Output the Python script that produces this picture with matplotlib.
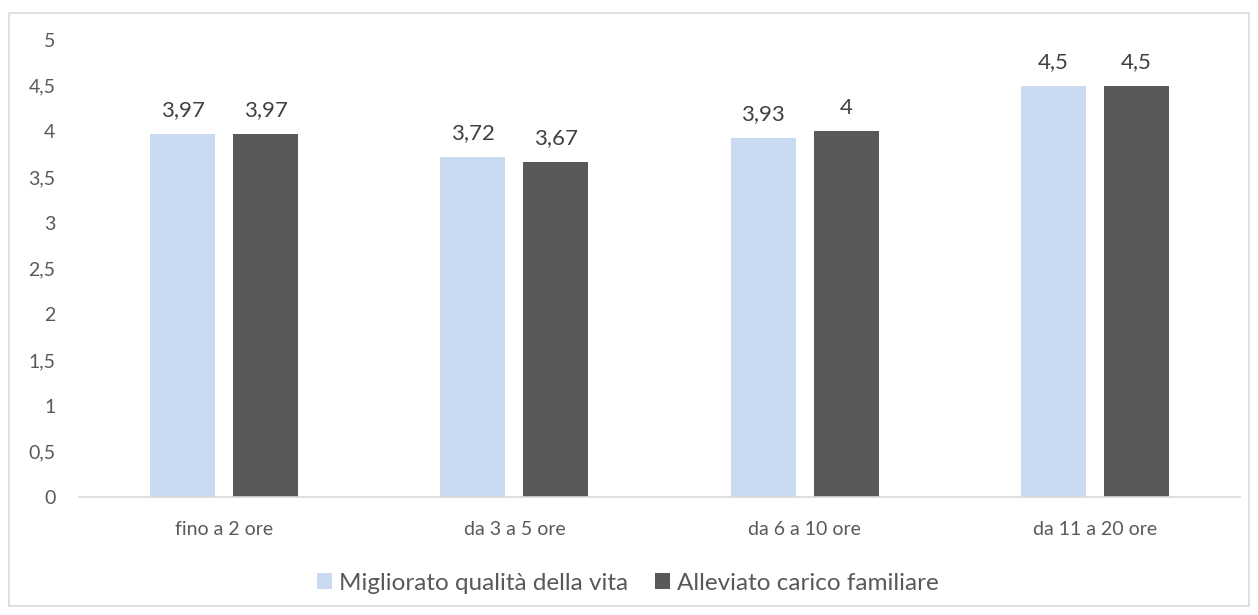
import numpy as np
import matplotlib.pyplot as plt
from matplotlib.patches import Rectangle

plt.rcParams['font.family'] = ['Lato', 'DejaVu Sans']

categories = ['fino a 2 ore', 'da 3 a 5 ore', 'da 6 a 10 ore', 'da 11 a 20 ore']
qualita = [3.97, 3.72, 3.93, 4.5]
carico = [3.97, 3.67, 4.0, 4.5]
labels_qualita = ['3,97', '3,72', '3,93', '4,5']
labels_carico = ['3,97', '3,67', '4', '4,5']
yticks = [0, 0.5, 1, 1.5, 2, 2.5, 3, 3.5, 4, 4.5, 5]
ytick_labels = ['0', '0,5', '1', '1,5', '2', '2,5', '3', '3,5', '4', '4,5', '5']

W, H = 1258, 615
fig = plt.figure(figsize=(W / 100, H / 100), dpi=100)
ax = fig.add_axes([79 / W, 1 - 497 / H, (1240 - 79) / W, (497 - 40) / H])

# outer chart border
fig.patches.append(Rectangle((9 / W, 1 - 606 / H), 1240 / W, 593 / H,
                             transform=fig.transFigure, fill=False,
                             edgecolor='#d9d9d9', linewidth=1.2))

x = np.arange(len(categories))
w = 0.224
off = 0.143
c1, c2 = '#c9daf1', '#595959'
b1 = ax.bar(x - off, qualita, w, color=c1, label='Migliorato qualità della vita')
b2 = ax.bar(x + off, carico, w, color=c2, label='Alleviato carico familiare')

for bars, labs in ((b1, labels_qualita), (b2, labels_carico)):
    for b, lab in zip(bars, labs):
        ax.annotate(lab, (b.get_x() + b.get_width() / 2, b.get_height()),
                    xytext=(0, 10), textcoords='offset points',
                    ha='center', va='bottom', fontsize=16, color='#404040')

ax.set_xlim(-0.5, len(categories) - 0.5)
ax.set_ylim(0, 5)
ax.set_yticks(yticks)
ax.set_yticklabels(ytick_labels)
ax.set_xticks(x)
ax.set_xticklabels(categories)
ax.tick_params(axis='both', length=0, labelsize=14, colors='#595959')
ax.tick_params(axis='x', pad=17)
ax.tick_params(axis='y', pad=17)
for s in ('top', 'right', 'left'):
    ax.spines[s].set_visible(False)
ax.spines['bottom'].set_color('#d9d9d9')
ax.spines['bottom'].set_linewidth(1.2)

ax.legend(loc='center', bbox_to_anchor=(628 / W, 1 - 583 / H),
          bbox_transform=fig.transFigure, ncol=2, frameon=False,
          fontsize=17.5, handlelength=0.6, handleheight=0.6,
          handletextpad=0.3, columnspacing=1.1, labelcolor='#595959')

fig.savefig('out.png', dpi=100)
